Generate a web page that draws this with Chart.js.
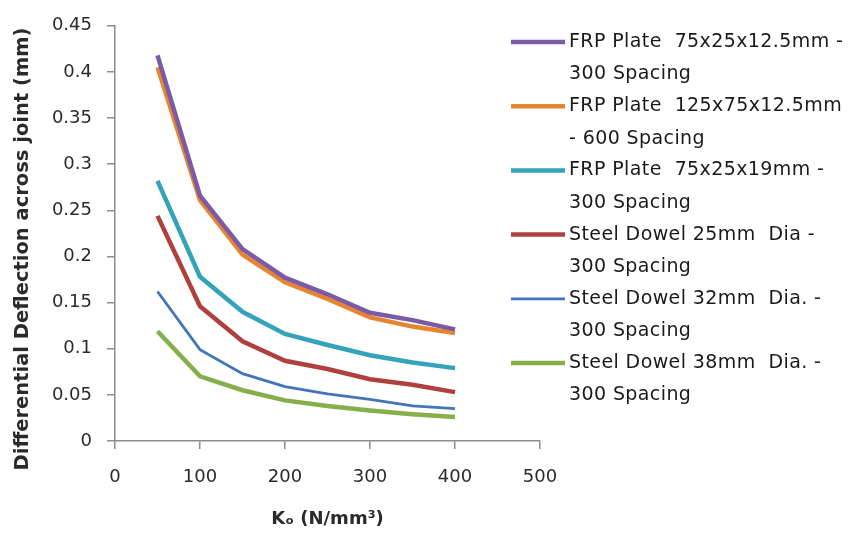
<!DOCTYPE html>
<html>
<head>
<meta charset="utf-8">
<script src="https://cdn.jsdelivr.net/npm/chart.js@4.4.0/dist/chart.umd.min.js"></script>
<style>
  html, body { margin: 0; padding: 0; background: #fff; }
  #wrap { width: 859px; height: 534px; position: relative; }
</style>
</head>
<body>
<div id="wrap"><canvas id="c" width="859" height="534"></canvas></div>
<script>
// subgrade modulus (N/mm3)
const ko = [50, 100, 150, 200, 250, 300, 350, 400];

// differential deflection across joint (mm)
const frp75x25x125 = [0.418, 0.266, 0.208, 0.177, 0.159, 0.139, 0.131, 0.121];
const frp125x75x125 = [0.405, 0.261, 0.202, 0.172, 0.154, 0.134, 0.124, 0.117];
const frp75x25x19 = [0.282, 0.178, 0.140, 0.116, 0.104, 0.093, 0.085, 0.079];
const dowel25 = [0.244, 0.146, 0.108, 0.087, 0.078, 0.067, 0.061, 0.053];
const dowel32 = [0.162, 0.099, 0.073, 0.059, 0.051, 0.045, 0.038, 0.035];
const dowel38 = [0.119, 0.070, 0.055, 0.044, 0.038, 0.033, 0.029, 0.026];

const seriesLabels = [
    ['FRP Plate  75x25x12.5mm -', '300 Spacing'],
    ['FRP Plate  125x75x12.5mm', '- 600 Spacing'],
    ['FRP Plate  75x25x19mm -', '300 Spacing'],
    ['Steel Dowel 25mm  Dia -', '300 Spacing'],
    ['Steel Dowel 32mm  Dia. -', '300 Spacing'],
    ['Steel Dowel 38mm  Dia. -', '300 Spacing']
];

const xTicks = [0, 100, 200, 300, 400, 500];
const yMax = 0.45;
const yTitle = 'Differential Deflection across joint (mm)';

const colors = ['#7b5aa6', '#e8832e', '#34a3ba', '#b0403e', '#4275ba', '#86ae4a'];
const widths = [4.5, 4.5, 4.5, 4.5, 2.8, 4.5];

function pts(vals) {
    return vals.map((v, i) => ({ x: ko[i], y: v }));
}

const allSeries = [frp75x25x125, frp125x75x125, frp75x25x19, dowel25, dowel32, dowel38];

// legend drawn by hand, because the labels run over two lines
const sideLegend = {
    id: 'sideLegend',
    afterDraw(chart) {
        const ctx = chart.ctx;
        ctx.save();
        ctx.font = '19px "DejaVu Sans"';
        ctx.letterSpacing = '0.4px';
        ctx.fillStyle = '#1a1a1a';
        ctx.textBaseline = 'middle';
        chart.data.datasets.forEach((ds, i) => {
            const y = 42 + i * 64.2;
            ctx.strokeStyle = ds.borderColor;
            ctx.lineWidth = ds.borderWidth;
            ctx.beginPath();
            ctx.moveTo(511, y);
            ctx.lineTo(565, y);
            ctx.stroke();
            ds.legendText.forEach((t, k) => {
                ctx.fillText(t, 569, y + k * 32.5);
            });
        });
        ctx.restore();

        // y title sits a bit below the middle of the axis in the original
        ctx.save();
        ctx.font = 'bold 19.5px "DejaVu Sans"';
        ctx.fillStyle = '#2a2a2a';
        ctx.textAlign = 'center';
        ctx.textBaseline = 'middle';
        ctx.translate(23, 249);
        ctx.rotate(-Math.PI / 2);
        ctx.fillText(yTitle, 0, 0);
        ctx.restore();
    }
};

new Chart(document.getElementById('c'), {
    type: 'line',
    data: {
        datasets: allSeries.map((vals, i) => ({
            label: seriesLabels[i].join(' '),
            legendText: seriesLabels[i],
            data: pts(vals),
            borderColor: colors[i],
            backgroundColor: colors[i],
            borderWidth: widths[i],
            pointRadius: 0,
            tension: 0,
            fill: false
        }))
    },
    options: {
        responsive: false,
        animation: false,
        layout: { padding: { left: 0, top: 15, right: 319, bottom: 0 } },
        plugins: {
            legend: { display: false },
            tooltip: { enabled: false }
        },
        scales: {
            x: {
                type: 'linear',
                min: 0,
                max: 500,
                afterBuildTicks: (axis) => { axis.ticks = xTicks.map(v => ({ value: v })); },
                afterFit: (axis) => { axis.height = 93; },
                grid: { drawOnChartArea: false, color: '#8c8c8c', tickLength: 8, lineWidth: 1.5 },
                border: { color: '#8c8c8c', width: 1.5 },
                ticks: { color: '#2a2a2a', font: { family: 'DejaVu Sans', size: 18 }, padding: 18, maxRotation: 0 },
                title: {
                    display: true,
                    text: 'K\u2092 (N/mm\u00b3)',
                    color: '#2a2a2a',
                    font: { family: 'DejaVu Sans', size: 18, weight: 'bold' },
                    padding: { top: 0, bottom: 4 }
                }
            },
            y: {
                min: 0,
                max: yMax,
                afterFit: (axis) => { axis.width = 115; },
                grid: { drawOnChartArea: false, color: '#8c8c8c', tickLength: 8, lineWidth: 1.5 },
                border: { color: '#8c8c8c', width: 1.5 },
                ticks: {
                    stepSize: 0.05,
                    color: '#2a2a2a',
                    font: { family: 'DejaVu Sans', size: 18 },
                    padding: 15,
                    callback: (v) => String(+v.toFixed(2))
                },
                title: { display: false }
            }
        }
    },
    plugins: [sideLegend]
});
</script>
</body>
</html>
